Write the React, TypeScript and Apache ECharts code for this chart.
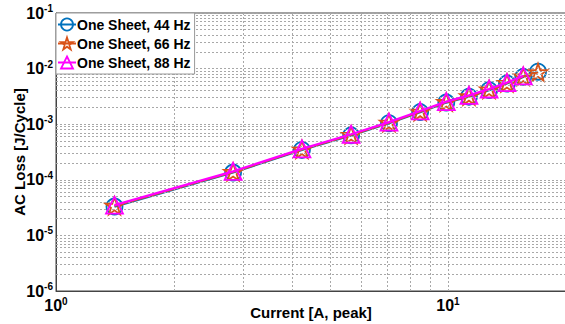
import React, { useEffect, useRef } from "react";
import * as echarts from "echarts";

const currents = [1.41, 2.83, 4.24, 5.66, 7.07, 8.49, 9.9, 11.31, 12.73, 14.14, 15.56, 16.97];
const loss44 = [3.3e-5, 1.35e-4, 3.45e-4, 6.3e-4, 1.04e-3, 1.65e-3, 2.45e-3, 3.13e-3, 4.1e-3, 5.4e-3, 7.1e-3, 8.8e-3];
const loss66 = [3.4e-5, 1.38e-4, 3.5e-4, 6.4e-4, 1.06e-3, 1.68e-3, 2.5e-3, 3.2e-3, 4.2e-3, 5.5e-3, 7.2e-3, 8.6e-3];
const loss88 = [3.5e-5, 1.42e-4, 3.6e-4, 6.6e-4, 1.09e-3, 1.73e-3, 2.55e-3, 3.3e-3, 4.3e-3, 5.6e-3, 7.4e-3];
const seriesNames = ["One Sheet, 44 Hz", "One Sheet, 66 Hz", "One Sheet, 88 Hz"];
const seriesColors = ["#0072BD", "#D95319", "#FF00FF"];
const xMinorGrid = [2, 3, 4, 5, 6, 7, 8, 9, 20];
const yMinorGrid = [
  2e-6, 3e-6, 4e-6, 5e-6, 6e-6, 7e-6, 8e-6, 9e-6,
  2e-5, 3e-5, 4e-5, 5e-5, 6e-5, 7e-5, 8e-5, 9e-5,
  2e-4, 3e-4, 4e-4, 5e-4, 6e-4, 7e-4, 8e-4, 9e-4,
  2e-3, 3e-3, 4e-3, 5e-3, 6e-3, 7e-3, 8e-3, 9e-3,
  2e-2, 3e-2, 4e-2, 5e-2, 6e-2, 7e-2, 8e-2, 9e-2,
];

const FONT = 'Arial, "Liberation Sans", sans-serif';
const STAR = "path://M50,2 L61.8,36 L97.6,36 L68.6,57.6 L79.4,92 L50,71 L20.6,92 L31.4,57.6 L2.4,36 L38.2,36 Z";
const symbols = ["circle", STAR, "triangle"];

const pair = (xs: number[], ys: number[]) => ys.map((y, i) => [xs[i], y]);

const powLabel = (v: number) => {
  const l = Math.log10(v);
  const e = Math.round(l);
  if (Math.abs(l - e) > 1e-6) return "";
  return `{b|10}{s|${e}}`;
};

const rich = {
  b: { fontFamily: FONT, fontWeight: "bold", fontSize: 16, color: "#000" },
  s: { fontFamily: FONT, fontWeight: "bold", fontSize: 10, color: "#000", padding: [0, 0, 9, 0] },
};

export default function App() {
  const ref = useRef<HTMLDivElement>(null);
  useEffect(() => {
    const chart = echarts.init(ref.current!, null, { renderer: "svg" });
    const gridLine = { type: [2, 2], color: "#a8a8a8", width: 1 };
    const mk = (i: number, size: number, data: number[][], z: number) => ({
      type: "line",
      name: seriesNames[i],
      data,
      symbol: symbols[i],
      symbolSize: size,
      symbolKeepAspect: true,
      z,
      lineStyle: { color: seriesColors[i], width: 2.2 },
      itemStyle: { color: "none", borderColor: seriesColors[i], borderWidth: 1.8 },
      emphasis: { disabled: true },
    });
    chart.setOption({
      animation: false,
      grid: {
        left: 56, top: 13, width: 510, height: 278,
        outerBoundsMode: "none", containLabel: false,
        show: true, borderColor: "#444", borderWidth: 1, backgroundColor: "#fff",
      },
      legend: {
        data: seriesNames.map((n, i) => ({
          name: n,
          itemStyle: { color: "none", borderColor: seriesColors[i], borderWidth: 1.8 },
        })),
        orient: "vertical",
        left: 56,
        top: 13,
        itemWidth: 18,
        itemHeight: 15,
        itemGap: 2,
        padding: [3, 4, 3, 1],
        backgroundColor: "#fff",
        borderColor: "#9a9a9a",
        borderWidth: 1,
        textStyle: { fontFamily: FONT, fontWeight: "bold", fontSize: 14, color: "#000", padding: [0, 0, 0, -4] },
        z: 10,
      },
      xAxis: {
        type: "log",
        logBase: 10,
        min: 1,
        max: 20,
        name: "Current [A, peak]",
        nameLocation: "middle",
        nameGap: 14,
        nameMoveOverlap: false,
        nameTextStyle: { fontFamily: FONT, fontWeight: "bold", fontSize: 15, color: "#000" },
        axisLine: { show: true, lineStyle: { color: "#444" } },
        axisTick: { show: false },
        splitLine: { show: true, lineStyle: gridLine },
        axisLabel: { formatter: powLabel, rich, margin: 5 },
      },
      yAxis: {
        type: "log",
        logBase: 10,
        min: 1e-6,
        max: 1e-1,
        splitNumber: 5,
        name: "AC Loss [J/Cycle]",
        nameLocation: "middle",
        nameGap: 29,
        nameMoveOverlap: false,
        nameRotate: 90,
        nameTextStyle: { fontFamily: FONT, fontWeight: "bold", fontSize: 15, color: "#000" },
        axisLine: { show: true, lineStyle: { color: "#444" } },
        axisTick: { show: false },
        splitLine: { show: true, lineStyle: gridLine },
        axisLabel: { formatter: powLabel, rich, margin: 3 },
      },
      series: [
        {
          type: "line",
          name: "grid",
          data: [],
          silent: true,
          z: 1,
          markLine: {
            silent: true,
            symbol: "none",
            precision: 12,
            label: { show: false },
            lineStyle: gridLine,
            emphasis: { disabled: true },
            data: [
              ...xMinorGrid.map((v) => ({ xAxis: v })),
              ...yMinorGrid.map((v) => ({ yAxis: v })),
            ],
          },
        },
        mk(0, 16, pair(currents, loss44), 3),
        mk(1, 18, pair(currents, loss66), 4),
        mk(2, 17, pair(currents, loss88), 5),
      ],
    });
    return () => chart.dispose();
  }, []);
  return (
    <div style={{ position: "fixed", left: 0, top: 0, width: 565, height: 324, background: "#fff" }}>
      <div ref={ref} style={{ width: 565, height: 324 }} />
    </div>
  );
}
